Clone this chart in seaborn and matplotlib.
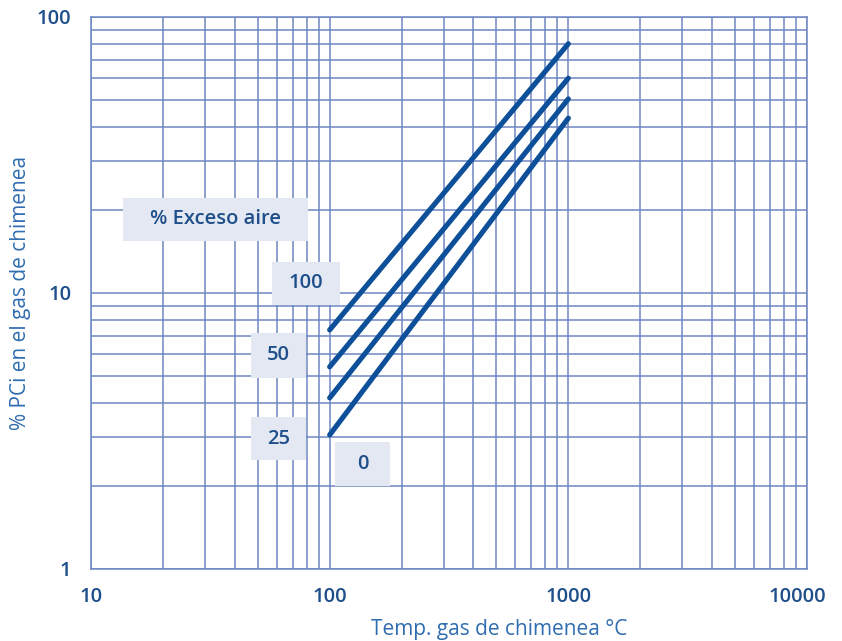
import matplotlib
matplotlib.use("Agg")
import matplotlib.pyplot as plt
import matplotlib.ticker as mticker
import matplotlib.transforms as mtransforms
import numpy as np
import pandas as pd
import seaborn as sns

# Flue-gas heat loss vs. stack temperature for several excess-air levels
temps = [100, 1000]
excess_air = ["100", "50", "25", "0"]
loss_100 = [7.35, 80.0]
loss_50 = [5.4, 60.0]
loss_25 = [4.17, 50.5]
loss_0 = [3.06, 43.0]

x_ticks = [10, 100, 1000, 10000]
y_ticks = [1, 10, 100]

df = pd.DataFrame({
    "temp": temps * 4,
    "loss": loss_100 + loss_50 + loss_25 + loss_0,
    "aire": [e for e in excess_air for _ in temps],
})

sns.set_theme(style="white")
plt.rcParams["font.family"] = ["Open Sans", "DejaVu Sans"]

grid_c = "#6d86c2"
text_c = "#1f4f8a"
label_c = "#2f6db0"
line_c = "#0e4f9a"
box_c = "#e4e8f2"

fig = plt.figure(figsize=(8.42, 6.41), dpi=100)
ax = fig.add_axes([91 / 842, 1 - 569 / 641, (807 - 91) / 842, (569 - 17) / 641])

sns.lineplot(data=df, x="temp", y="loss", hue="aire",
             palette={e: line_c for e in excess_air},
             linewidth=3.7, legend=False, ax=ax, zorder=5)

ax.set_xscale("log")
ax.set_yscale("log")
ax.set_xlim(10, 10000)
ax.set_ylim(1, 100)

ax.xaxis.set_major_locator(mticker.FixedLocator(x_ticks))
ax.yaxis.set_major_locator(mticker.FixedLocator(y_ticks))
ax.xaxis.set_minor_locator(mticker.LogLocator(base=10, subs=np.arange(2, 10)))
ax.yaxis.set_minor_locator(mticker.LogLocator(base=10, subs=np.arange(2, 10)))
ax.xaxis.set_major_formatter(mticker.FixedFormatter([str(v) for v in x_ticks]))
ax.yaxis.set_major_formatter(mticker.FixedFormatter([str(v) for v in y_ticks]))
ax.xaxis.set_minor_formatter(mticker.NullFormatter())
ax.yaxis.set_minor_formatter(mticker.NullFormatter())

ax.grid(True, which="both", color=grid_c, linewidth=1.1)
ax.tick_params(axis="x", which="both", direction="out", length=9, width=1.1,
               color=grid_c, pad=4, labelsize=14.5, labelcolor=text_c)
ax.tick_params(axis="y", which="both", direction="out", length=6, width=1.1,
               color=grid_c, pad=8, labelsize=14.5, labelcolor=text_c)
for lbl in ax.get_xticklabels() + ax.get_yticklabels():
    lbl.set_fontweight("semibold")
for s in ax.spines.values():
    s.set_color(grid_c)
    s.set_linewidth(1.1)

# keep the rightmost x tick label inside the figure
last = ax.get_xticklabels()[-1]
last.set_transform(last.get_transform() +
                   mtransforms.ScaledTranslation(-10 / 100, 0, fig.dpi_scale_trans))

ax.set_xlabel("Temp. gas de chimenea °C", color=label_c, fontsize=15, va="center")
ax.set_ylabel("% PCi en el gas de chimenea", color=label_c, fontsize=15, va="center")
ax.xaxis.set_label_coords((499 - 91) / (807 - 91), -(629 - 569) / (569 - 17))
ax.yaxis.set_label_coords(-(91 - 21) / (807 - 91), 0.5)

# Curve labels on shaded boxes (figure pixel coordinates: x0, y0, x1, y1)
boxes = [
    ("% Exceso aire", 123, 198, 308, 241),
    ("100", 272, 262, 340, 305),
    ("50", 251, 333, 306, 378),
    ("25", 251, 417, 306, 460),
    ("0", 335, 442, 390, 486),
]
for txt, x0, y0, x1, y1 in boxes:
    fig.patches.append(plt.Rectangle((x0 / 842, 1 - y1 / 641), (x1 - x0) / 842,
                                     (y1 - y0) / 641, transform=fig.transFigure,
                                     facecolor=box_c, edgecolor="none", zorder=3))
    fig.text((x0 + x1) / 2 / 842, 1 - (y0 + y1) / 2 / 641, txt, ha="center",
             va="center", color=text_c, fontsize=14.5, fontweight="semibold", zorder=4)

fig.savefig("out.png", dpi=100, facecolor="white")
